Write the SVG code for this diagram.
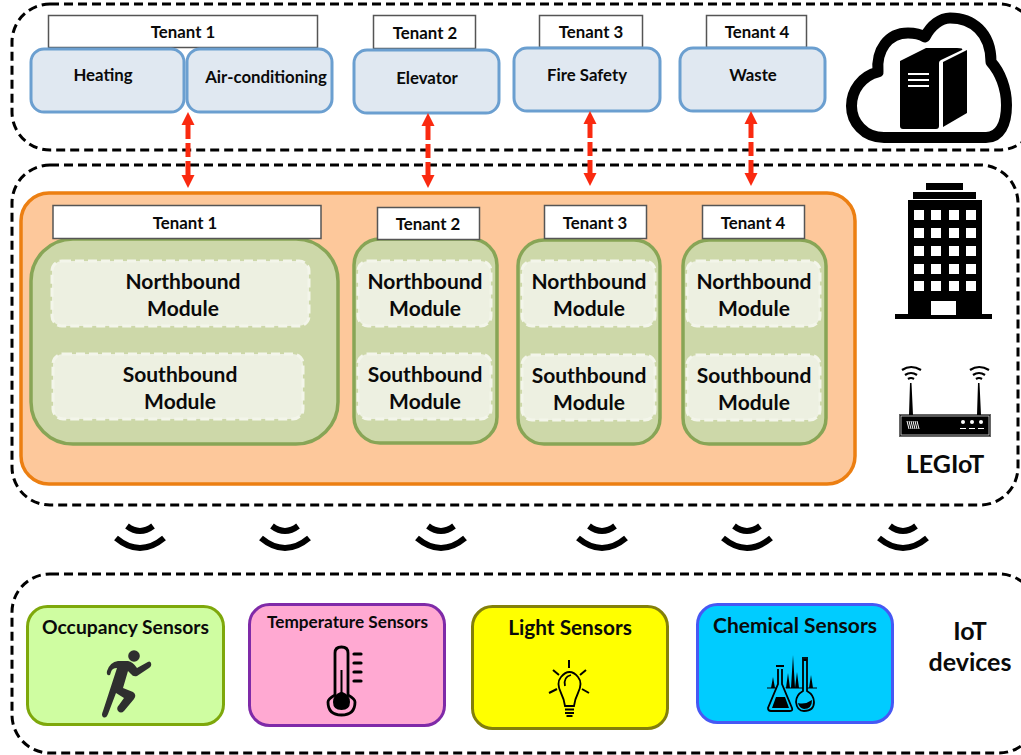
<svg xmlns="http://www.w3.org/2000/svg" width="1021" height="755" viewBox="0 0 1021 755">
<style>
text{font-family:Lato,"Open Sans","Liberation Sans",sans-serif;font-weight:700;fill:#0a0a0a;text-anchor:middle}
.zone{fill:none;stroke:#000;stroke-width:3;stroke-dasharray:9 5}
.label{fill:#fff;stroke:#555;stroke-width:1.500}
.app{fill:#e0e8f1;stroke:#6b9fd0;stroke-width:3}
.t14{font-size:16.800px}
.t20{font-size:21px}
.green{fill:#cdd8a9;stroke:#88a556;stroke-width:3.500}
.mod{fill:#edf0e1;stroke:#f3f5ea;stroke-width:3;stroke-dasharray:9 4}
.arrow{stroke:#fa2a10;stroke-width:5;stroke-dasharray:14 4;fill:none;marker-start:url(#ah);marker-end:url(#ah)}
.wave{fill:none;stroke:#000;stroke-width:6}
</style>
<defs>
<marker id="ah" markerUnits="userSpaceOnUse" markerWidth="14" markerHeight="14" refX="0" refY="7" orient="auto-start-reverse"><path d="M0 0.500L13 7L0 13.500z" fill="#fa2a10"/></marker>
<g id="waves"><path class="wave" d="M-24 -7Q0 13 24 -7"/><path class="wave" d="M-13 -19Q0 -9 13 -19"/></g>
</defs>

<g id="zones">
<rect id="zone-cloud" class="zone" x="12" y="4" width="1025" height="146" rx="38"/>
<rect id="zone-building" class="zone" x="12" y="165" width="1006" height="340" rx="38"/>
<rect id="zone-devices" class="zone" x="12" y="574" width="1025" height="179" rx="38"/>
</g>

<g id="icon-cloud">
<path d="M884 137.500C864 137.500 851.500 122 851.500 106C851.500 90 862 76 878 72C876 50 888 33 908 33C914 33 920 34 925 37C931 25 941 18 950 18C972 18 991 32 991 62C1000 72 1006.500 88 1006.500 105C1006.500 124 1000 137.500 986 137.500Z" fill="#fff" stroke="#000" stroke-width="11" stroke-linejoin="round"/>
<path d="M900 61L926 48H957Q964 48 962 50L941 60Q939 61 939 63V126Q939 129 936 129H903Q900 129 900 126Z" fill="#000"/>
<path d="M943 62L967 50V113L943 127Z" fill="#000"/>
<path d="M908 74H929M908 80H929M908 86H929" stroke="#fff" stroke-width="2"/>
</g>

<g id="icon-building">
<path d="M926 183H963V190H926ZM913 192H976V199H913ZM908 200H982V314H992V319H895V314H908Z" fill="#000"/>
<g fill="#fff">
<path d="M914 210h10v10h-10zM931 210h10v10h-10zM949 210h10v10h-10zM966 210h10v10h-10z"/>
<path d="M914 228h10v10h-10zM931 228h10v10h-10zM949 228h10v10h-10zM966 228h10v10h-10z"/>
<path d="M914 246h10v10h-10zM931 246h10v10h-10zM949 246h10v10h-10zM966 246h10v10h-10z"/>
<path d="M914 264h10v10h-10zM931 264h10v10h-10zM949 264h10v10h-10zM966 264h10v10h-10z"/>
<path d="M914 281h10v10h-10zM931 281h10v10h-10zM949 281h10v10h-10zM966 281h10v10h-10z"/>
<path d="M931 301h25v14h-25z"/>
</g>
</g>

<g id="icon-router">
<rect x="899.500" y="414.500" width="91" height="22" fill="#000" stroke="#666"/>
<rect x="901" y="416" width="88" height="19" fill="none" stroke="#ddd" stroke-width=".800"/>
<path d="M909 415L910 383H911.500L913 415ZM977 415L978 383H979.500L981 415Z" fill="#000"/>
<path d="M902 370Q911 364 921 370M905 375Q911 371 917 375M908 379Q911 377 914 379M970 370Q979 364 989 370M973 375Q979 371 985 375M976 379Q979 377 982 379" fill="none" stroke="#000" stroke-width="2.200"/>
<path d="M907 421L909 429M909 421L911 429M911 421L913 429M913 421L915 429M915 421L917 429M917 421L919 429" stroke="#fff"/>
<g fill="#fff"><circle cx="963" cy="422" r="2"/><circle cx="972" cy="422" r="2"/><circle cx="981" cy="422" r="2"/><path d="M960 428h6v1h-6zM969 428h6v1h-6zM978 428h6v1h-6z"/></g>
</g>
<text id="label-legiot" x="945" y="473" font-size="25">LEGIoT</text>

<g id="cloud-t1"><rect class="label" x="48.500" y="15.500" width="269" height="32"/><text class="t14" x="183" y="38">Tenant 1</text></g>
<g id="app-heating"><rect class="app" x="31" y="49" width="153" height="63" rx="13"/><text class="t14" x="103" y="81">Heating</text></g>
<g id="app-air"><rect class="app" x="187" y="49" width="145" height="63" rx="13"/><text class="t14" x="266" y="83">Air-conditioning</text></g>
<g id="cloud-t2"><rect class="label" x="373.500" y="15.500" width="102" height="33"/><text class="t14" x="425" y="39">Tenant 2</text></g>
<g id="app-elevator"><rect class="app" x="354" y="50" width="145" height="63" rx="13"/><text class="t14" x="427" y="84">Elevator</text></g>
<g id="cloud-t3"><rect class="label" x="539.500" y="15.500" width="103" height="32"/><text class="t14" x="591" y="38">Tenant 3</text></g>
<g id="app-fire"><rect class="app" x="514" y="48" width="146" height="63" rx="13"/><text class="t14" x="587" y="81">Fire Safety</text></g>
<g id="cloud-t4"><rect class="label" x="706.500" y="15.500" width="100" height="32"/><text class="t14" x="757" y="38">Tenant 4</text></g>
<g id="app-waste"><rect class="app" x="680" y="48" width="145" height="63" rx="13"/><text class="t14" x="753" y="81">Waste</text></g>

<g id="gateway"><rect x="21" y="193" width="834" height="291" rx="28" fill="#fdc89b" stroke="#ec7f12" stroke-width="3.500"/></g>

<g id="tenant-1">
<rect class="green" x="31" y="239" width="307" height="205" rx="42"/>
<rect class="label" x="53" y="205.500" width="268" height="33"/><text class="t14" x="185" y="229">Tenant 1</text>
<rect class="mod" x="52" y="261" width="257" height="65" rx="10"/><text class="t20" x="183" y="289">Northbound</text><text class="t20" x="183" y="316">Module</text>
<rect class="mod" x="53" y="354" width="250" height="65" rx="10"/><text class="t20" x="180" y="382">Southbound</text><text class="t20" x="180" y="409">Module</text>
</g>
<g id="tenant-2">
<rect class="green" x="354" y="239" width="143" height="204" rx="26"/>
<rect class="label" x="377.500" y="207.500" width="102" height="32"/><text class="t14" x="428" y="230">Tenant 2</text>
<rect class="mod" x="358" y="261" width="133" height="65" rx="10"/><text class="t20" x="425" y="289">Northbound</text><text class="t20" x="425" y="316">Module</text>
<rect class="mod" x="358" y="354" width="133" height="65" rx="10"/><text class="t20" x="425" y="382">Southbound</text><text class="t20" x="425" y="409">Module</text>
</g>
<g id="tenant-3">
<rect class="green" x="518" y="240" width="142" height="204" rx="26"/>
<rect class="label" x="544.500" y="205.500" width="102" height="33"/><text class="t14" x="595" y="229">Tenant 3</text>
<rect class="mod" x="522" y="261" width="133" height="65" rx="10"/><text class="t20" x="589" y="289">Northbound</text><text class="t20" x="589" y="316">Module</text>
<rect class="mod" x="522" y="355" width="133" height="65" rx="10"/><text class="t20" x="589" y="383">Southbound</text><text class="t20" x="589" y="410">Module</text>
</g>
<g id="tenant-4">
<rect class="green" x="683" y="240" width="143" height="204" rx="26"/>
<rect class="label" x="702.500" y="205.500" width="102" height="33"/><text class="t14" x="753" y="229">Tenant 4</text>
<rect class="mod" x="687" y="261" width="133" height="65" rx="10"/><text class="t20" x="754" y="289">Northbound</text><text class="t20" x="754" y="316">Module</text>
<rect class="mod" x="687" y="355" width="133" height="65" rx="10"/><text class="t20" x="754" y="383">Southbound</text><text class="t20" x="754" y="410">Module</text>
</g>

<g id="connectors">
<path class="arrow" d="M188 125V175"/>
<path class="arrow" d="M428 126V175"/>
<path class="arrow" d="M590 124V173"/>
<path class="arrow" d="M751 124V173"/>
</g>

<g id="links">
<use href="#waves" x="140" y="545"/><use href="#waves" x="285" y="545"/><use href="#waves" x="441" y="545"/><use href="#waves" x="602" y="545"/><use href="#waves" x="747" y="545"/><use href="#waves" x="903" y="545"/>
</g>

<g id="sensor-occupancy">
<rect x="27.500" y="606.500" width="196" height="118" rx="20" fill="#cffda1" stroke="#7ea80b" stroke-width="3"/>
<text x="125.500" y="634" font-size="19.300px">Occupancy Sensors</text>
<g fill="#2f2f2f"><circle cx="134" cy="656" r="5.800"/>
<path d="M107 671Q110 662 118 661L128 661Q133 662 137 668L146 663Q150 660 151 663Q152 666 149 668L137 676Q133 677 131 674L128 671L123 688L133 692Q137 695 134 699L124 711Q121 714 118 711Q116 708 119 705L124 698L116 693L108 714Q106 719 103 717Q101 715 103 711L117 668Q112 668 111 672L110 675Q106 676 107 671Z"/></g>
</g>
<g id="sensor-temperature">
<rect x="249.500" y="604.500" width="195" height="121" rx="20" fill="#ffa9d2" stroke="#7f2aa8" stroke-width="3"/>
<text x="347.500" y="628" font-size="17.200px">Temperature Sensors</text>
<path d="M335 695V653Q335 647 341.500 647Q348 647 348 653V695Q355 699 355 702Q355 715 341.500 715Q328 715 328 702Q328 699 335 695Z" fill="none" stroke="#000" stroke-width="2.800"/>
<path d="M354 654h7M354 663h7M354 672h7M354 681h7" fill="none" stroke="#000" stroke-width="3.200" stroke-linecap="round"/>
<path d="M340.500 670H342.500V692Q350 695 350 702Q350 710 341.500 710Q333 710 333 702Q333 695 340.500 692Z" fill="#000"/>
</g>
<g id="sensor-light">
<rect x="472.500" y="606.500" width="195" height="122" rx="20" fill="#ff0" stroke="#83800a" stroke-width="3"/>
<text x="570" y="635" font-size="20.800px">Light Sensors</text>
<g fill="none" stroke="#000" stroke-width="1.800"><path d="M565 706Q564 699 561 693Q556 683 561 677Q565 672 569.500 672Q574 672 578 677Q583 683 578 693Q575 699 574 706Z"/>
<path d="M565 686Q563 677 571 675"/><path d="M565 709.500H574M565 713H574M566.500 716H572.500" stroke-width="2"/>
<path d="M569 660V668M553 670L559 675M586 670L580 675M549 693L557 689M589 693L582 689" stroke-width="2"/></g>
</g>
<g id="sensor-chemical">
<rect x="697.500" y="604.500" width="195" height="118" rx="20" fill="#00ccff" stroke="#4658f4" stroke-width="3"/>
<text x="795" y="633" font-size="21px">Chemical Sensors</text>
<path d="M767 687.500H817V688.500H767ZM771 688L773 677L775 688ZM786 688L788 673L790 688ZM791 688L793 655L795 688ZM795 688L797 672L799 688ZM809 688L811 675L813 688Z" fill="#000"/>
<path d="M784 671V684L794 708Q794 711 791 711H770Q767 711 768 708L778 684V671" fill="#00ccff"/>
<path d="M796 702Q796 695 803 691V660H807V691Q814 695 814 702Q814 711 805 711Q796 711 796 702Z" fill="#00ccff"/>
<g fill="none" stroke="#000" stroke-width="1.800">
<path d="M778 669V684L768 708Q768 711 771 711H790Q793 711 792 708L782 684V669M776 666H784"/>
<path d="M803 660V691Q796 695 796 702Q797 711 804 711Q814 711 814 702Q814 695 807 691V660Z"/><path d="M802 658H808"/>
</g>
<path d="M772 708L776 697H785L789 708Z" fill="#000"/>
<path d="M798 703Q805 705 812 700Q812 709 804 709Q799 708 798 703Z" fill="#000"/>
</g>
<g id="label-iot"><text x="970" y="640" font-size="25">IoT</text><text x="970" y="671" font-size="25">devices</text></g>
</svg>
